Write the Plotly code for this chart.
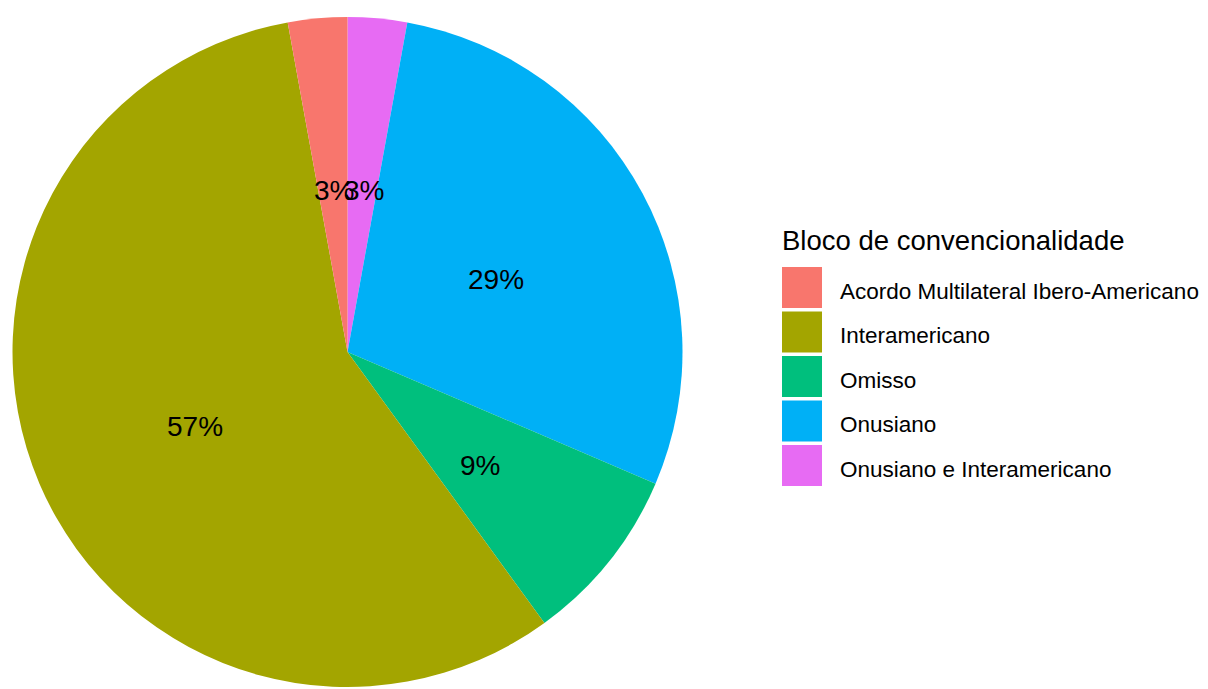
import math
import plotly.graph_objects as go

# dados
blocos = ["Acordo Multilateral Ibero-Americano", "Interamericano", "Omisso",
          "Onusiano", "Onusiano e Interamericano"]
contagens = [1, 20, 3, 10, 1]
cores = ["#F8766D", "#A3A500", "#00BF7D", "#00B0F6", "#E76BF3"]
titulo_legenda = "Bloco de convencionalidade"

W, H = 1208, 689
fonte = "Liberation Sans, Arial, sans-serif"

# page has an 8px body margin, positions below are page pixels
M = 8


def fx(p):
    return (p - M) / W


def fy(p):
    return 1 - (p - M) / H


# pie geometry (page pixels)
cx, cy, R = 347.5, 352, 335

# ggplot draws the last level first going clockwise from the top
ordem = list(reversed(range(len(blocos))))
total = sum(contagens)

fig = go.Figure()
fig.add_trace(go.Pie(
    labels=[blocos[i] for i in ordem],
    values=[contagens[i] for i in ordem],
    marker=dict(colors=[cores[i] for i in ordem], line=dict(width=0)),
    sort=False,
    direction="clockwise",
    rotation=0,
    textinfo="none",
    hoverinfo="label+value+percent",
    showlegend=False,
    domain=dict(x=[fx(cx - R), fx(cx + R)],
                y=[fy(cy + R), fy(cy - R)]),
))

# percent labels at ~half radius, middle of each slice
annots = []
acum = 0
for i in ordem:
    frac = contagens[i] / total
    meio = (acum + frac / 2) * 2 * math.pi
    acum += frac
    px = cx + 0.5 * R * math.sin(meio) + 1.5
    py = cy - 0.507 * R * math.cos(meio) + 7.5
    annots.append(dict(x=fx(px), y=fy(py), xref="paper", yref="paper",
                       text="%d%%" % round(frac * 100), showarrow=False,
                       xanchor="center", yanchor="middle",
                       font=dict(size=28, color="black", family=fonte)))

# legenda manual (ggplot style keys)
shapes = []
annots.append(dict(x=fx(780), y=fy(241), xref="paper", yref="paper",
                   text=titulo_legenda, showarrow=False, xanchor="left",
                   yanchor="middle", font=dict(size=27.5, color="black", family=fonte)))
for k, nome in enumerate(blocos):
    topo = 267 + k * 44.5
    shapes.append(dict(type="rect", xref="paper", yref="paper",
                       x0=fx(782), x1=fx(822),
                       y0=fy(topo + 41), y1=fy(topo),
                       fillcolor=cores[k], line=dict(width=0)))
    annots.append(dict(x=fx(838), y=fy(topo + 24), xref="paper", yref="paper",
                       text=nome, showarrow=False, xanchor="left", yanchor="middle",
                       font=dict(size=22.5, color="black", family=fonte)))

fig.update_layout(
    width=W, height=H,
    margin=dict(l=0, r=0, t=0, b=0),
    paper_bgcolor="white",
    plot_bgcolor="white",
    annotations=annots,
    shapes=shapes,
)

fig.write_html("out.html")
